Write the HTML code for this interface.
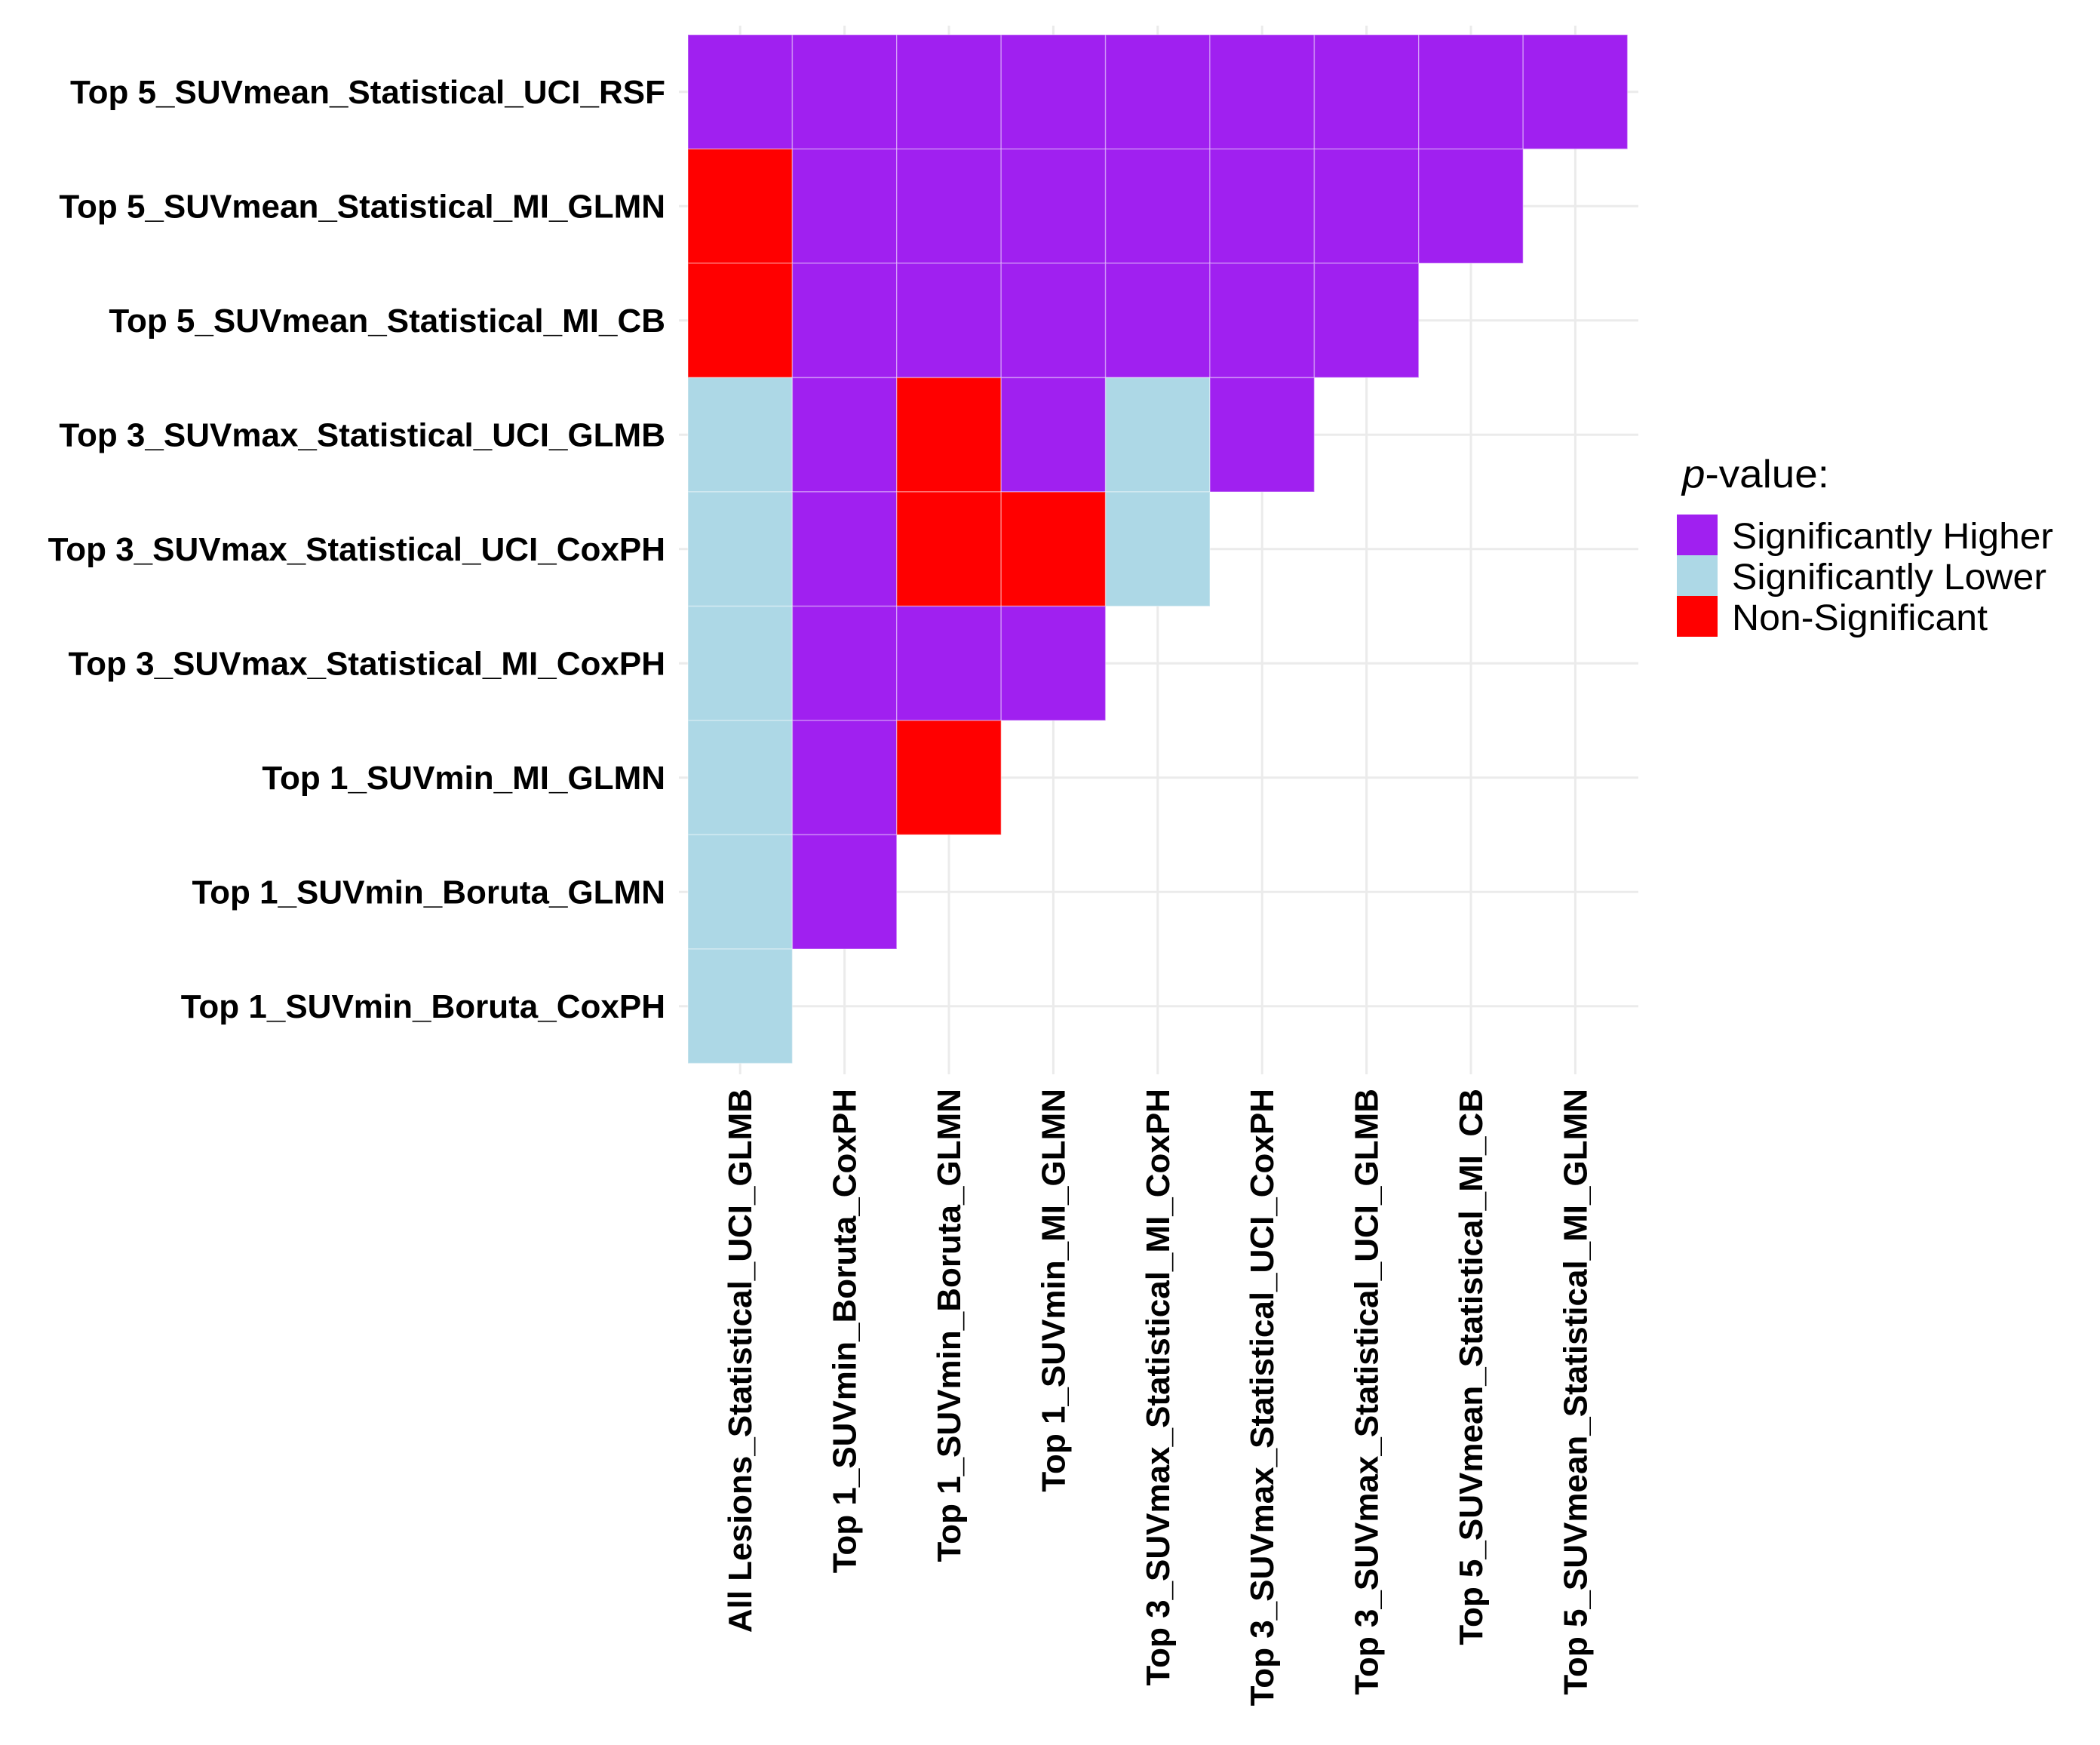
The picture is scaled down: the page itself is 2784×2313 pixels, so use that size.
<!DOCTYPE html>
<html><head><meta charset="utf-8"><style>
html,body{margin:0;padding:0;background:#fff;}
svg{display:block;}
</style></head><body>
<svg id="chart" width="2784" height="2313" viewBox="0 0 2784 2313" xmlns="http://www.w3.org/2000/svg" font-family="Liberation Sans, Arial, sans-serif">
<g id="grid"></g>
<g id="cells"></g>
<g id="ylabels"></g>
<g id="xlabels"></g>
<g>
  <text x="2230" y="646" font-size="52" fill="#000" textLength="195" lengthAdjust="spacingAndGlyphs"><tspan font-style="italic">p</tspan>-value:</text>
  <rect x="2223" y="682" width="54" height="54" fill="#A020F0"/>
  <rect x="2223" y="736" width="54" height="54" fill="#ADD8E6"/>
  <rect x="2223" y="790" width="54" height="54" fill="#FF0000"/>
  <text x="2296" y="727" font-size="48" fill="#000" textLength="426" lengthAdjust="spacingAndGlyphs">Significantly Higher</text>
  <text x="2296" y="781" font-size="48" fill="#000" textLength="417" lengthAdjust="spacingAndGlyphs">Significantly Lower</text>
  <text x="2296" y="835" font-size="48" fill="#000" textLength="339" lengthAdjust="spacingAndGlyphs">Non-Significant</text>
</g>
</svg>
<script>
const rowLabels = ["Top 5_SUVmean_Statistical_UCI_RSF","Top 5_SUVmean_Statistical_MI_GLMN","Top 5_SUVmean_Statistical_MI_CB","Top 3_SUVmax_Statistical_UCI_GLMB","Top 3_SUVmax_Statistical_UCI_CoxPH","Top 3_SUVmax_Statistical_MI_CoxPH","Top 1_SUVmin_MI_GLMN","Top 1_SUVmin_Boruta_GLMN","Top 1_SUVmin_Boruta_CoxPH"];
const colLabels = ["All Lesions_Statistical_UCI_GLMB","Top 1_SUVmin_Boruta_CoxPH","Top 1_SUVmin_Boruta_GLMN","Top 1_SUVmin_MI_GLMN","Top 3_SUVmax_Statistical_MI_CoxPH","Top 3_SUVmax_Statistical_UCI_CoxPH","Top 3_SUVmax_Statistical_UCI_GLMB","Top 5_SUVmean_Statistical_MI_CB","Top 5_SUVmean_Statistical_MI_GLMN"];
// H = significantly higher, L = significantly lower, N = non-significant
const row0 = ["H","H","H","H","H","H","H","H","H"];
const row1 = ["N","H","H","H","H","H","H","H"];
const row2 = ["N","H","H","H","H","H","H"];
const row3 = ["L","H","N","H","L","H"];
const row4 = ["L","H","N","N","L"];
const row5 = ["L","H","H","H"];
const row6 = ["L","H","N"];
const row7 = ["L","H"];
const row8 = ["L"];
const rows = [row0,row1,row2,row3,row4,row5,row6,row7,row8];
const colors = {H:"#A020F0", L:"#ADD8E6", N:"#FF0000"};

const NS="http://www.w3.org/2000/svg";
const plotLeft=912, plotTop=46, cw=138.4, ch=151.5;
function xPos(i){return plotLeft+i*cw;}
function yPos(j){return plotTop+j*ch;}
function mk(tag,attrs,parent){const e=document.createElementNS(NS,tag);for(const k in attrs)e.setAttribute(k,attrs[k]);parent.appendChild(e);return e;}

const grid=document.getElementById('grid');
colLabels.forEach((c,i)=>{
  const l=mk('line',{x1:xPos(i)+cw/2,x2:xPos(i)+cw/2,y1:34,y2:1424,stroke:'#EBEBEB','stroke-width':3},grid);
  
  
});
rowLabels.forEach((r,j)=>{
  const l=mk('line',{x1:900,x2:2172,y1:yPos(j)+ch/2,y2:yPos(j)+ch/2,stroke:'#EBEBEB','stroke-width':3},grid);
  
  
});

const cells=document.getElementById('cells');
rows.forEach((row,j)=>{
  row.forEach((v,i)=>{
    const r=mk('rect',{x:xPos(i),y:yPos(j),width:cw,height:ch,fill:colors[v],stroke:'rgba(255,255,255,0.35)','stroke-width':1.5},cells);
    
    
  });
});

const yl=document.getElementById('ylabels');
rowLabels.forEach((t,j)=>{
  const e=mk('text',{x:882,y:yPos(j)+ch/2+15,'text-anchor':'end','font-size':44,'font-weight':'bold',fill:'#000'},yl);
  e.textContent=t;
  
  
});
const xl=document.getElementById('xlabels');
colLabels.forEach((t,i)=>{
  const cx=xPos(i)+cw/2+15, cy=1443;
  const e=mk('text',{x:cx,y:cy,'text-anchor':'end','font-size':44,'font-weight':'bold',fill:'#000',transform:`rotate(-90 ${cx} ${cy})`},xl);
  e.textContent=t;
  
  
});
</script>
</body></html>
